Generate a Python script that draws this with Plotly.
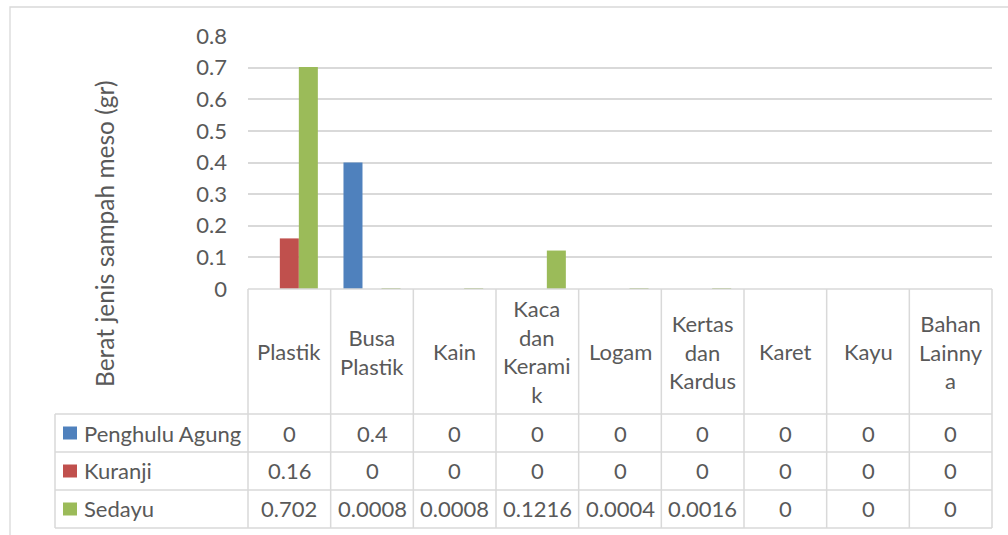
import plotly.graph_objects as go

# Waste categories, wrapped header labels and series values (gr)
categories = ["Plastik", "Busa Plastik", "Kain", "Kaca dan Keramik", "Logam",
              "Kertas dan Kardus", "Karet", "Kayu", "Bahan Lainnya"]
header_labels = ["Plastik", "Busa<br>Plastik", "Kain", "Kaca<br>dan<br>Kerami<br>k",
                 "Logam", "Kertas<br>dan<br>Kardus", "Karet", "Kayu", "Bahan<br>Lainny<br>a"]
series_names = ["Penghulu Agung", "Kuranji", "Sedayu"]
penghulu_agung = [0, 0.4, 0, 0, 0, 0, 0, 0, 0]
kuranji = [0.16, 0, 0, 0, 0, 0, 0, 0, 0]
sedayu = [0.702, 0.0008, 0.0008, 0.1216, 0.0004, 0.0016, 0, 0, 0]
y_ticks = [0, 0.1, 0.2, 0.3, 0.4, 0.5, 0.6, 0.7, 0.8]

series_values = [penghulu_agung, kuranji, sedayu]
colors = ["#4f81bd", "#c0504d", "#9bbb59"]

W, H = 1008, 535
PL, PR, PT, PB = 248, 992, 36, 289          # plot area in pixels
FONT = "Lato"
TXT = "#595959"
GRID = "#d9d9d9"
FS = 22
TITLE_FS = 24.5


def px(x):
    return (x - PL) / (PR - PL)


def py(y):
    return (PB - y) / (PB - PT)


fig = go.Figure()
xs = list(range(len(categories)))
for name, vals, col in zip(series_names, series_values, colors):
    fig.add_trace(go.Bar(x=xs, y=vals, name=name, marker=dict(color=col, line=dict(width=0))))

shapes = []
annotations = []

# Table geometry
n = len(categories)
col_w = (PR - PL) / n
row_lines = [414, 452, 490, 528]
table_left = 55
line = dict(color=GRID, width=1.5)

# horizontal lines of the data table
for y in row_lines:
    shapes.append(dict(type="line", xref="paper", yref="paper",
                       x0=px(table_left), x1=px(PR), y0=py(y), y1=py(y), line=line))
shapes.append(dict(type="line", xref="paper", yref="paper",
                   x0=px(PL), x1=px(PR), y0=py(PB), y1=py(PB), line=line))
# vertical lines
shapes.append(dict(type="line", xref="paper", yref="paper",
                   x0=px(table_left), x1=px(table_left), y0=py(row_lines[0]), y1=py(row_lines[-1]), line=line))
for k in range(n + 1):
    x = PL + k * col_w
    shapes.append(dict(type="line", xref="paper", yref="paper",
                       x0=px(x), x1=px(x), y0=py(PB), y1=py(row_lines[-1]), line=line))

# outer chart border
shapes.append(dict(type="rect", xref="paper", yref="paper",
                   x0=px(10), x1=px(1020), y0=py(7), y1=py(545),
                   line=dict(color=GRID, width=1.3), layer="below"))

# header cells
for k, lab in enumerate(header_labels):
    cx = PL + (k + 0.5) * col_w
    annotations.append(dict(xref="paper", yref="paper", x=px(cx), y=py((PB + row_lines[0]) / 2),
                            text=lab, showarrow=False, xanchor="center", yanchor="middle",
                            font=dict(family=FONT, size=FS, color=TXT)))

# data rows with legend keys
row_tops = [row_lines[0], row_lines[1], row_lines[2]]
for r, (name, vals, col) in enumerate(zip(series_names, series_values, colors)):
    cy = row_tops[r] + (row_lines[r + 1] - row_tops[r]) / 2
    shapes.append(dict(type="rect", xref="paper", yref="paper",
                       x0=px(63), x1=px(77), y0=py(cy - 6.5), y1=py(cy + 6.5),
                       fillcolor=col, line=dict(width=0)))
    annotations.append(dict(xref="paper", yref="paper", x=px(82), y=py(cy),
                            text=name, showarrow=False, xanchor="left", yanchor="middle",
                            font=dict(family=FONT, size=FS, color=TXT)))
    for k, v in enumerate(vals):
        cx = PL + (k + 0.5) * col_w
        annotations.append(dict(xref="paper", yref="paper", x=px(cx), y=py(cy),
                                text=f"{v:g}", showarrow=False, xanchor="center", yanchor="middle",
                                font=dict(family=FONT, size=FS, color=TXT)))

# y axis title
annotations.append(dict(xref="paper", yref="paper", x=px(104), y=py(234),
                        text="Berat jenis sampah meso (gr)", textangle=-90, showarrow=False,
                        xanchor="center", yanchor="middle",
                        font=dict(family=FONT, size=TITLE_FS, color=TXT)))

fig.update_layout(
    width=W, height=H,
    margin=dict(l=PL, r=W - PR, t=PT, b=H - PB, autoexpand=False),
    paper_bgcolor="white", plot_bgcolor="white",
    barmode="group", bargap=0.31, bargroupgap=0,
    showlegend=False,
    shapes=shapes, annotations=annotations,
    font=dict(family=FONT, size=FS, color=TXT),
    xaxis=dict(range=[-0.5, n - 0.5], showticklabels=False, showgrid=False,
               zeroline=False, showline=False, ticks=""),
    yaxis=dict(range=[0, 0.8], tickvals=y_ticks, ticktext=[f"{t:g}" for t in y_ticks],
               showgrid=True, gridcolor=GRID, gridwidth=1.5, zeroline=False,
               showline=False, ticks="", ticklabelstandoff=20,
               tickfont=dict(family=FONT, size=FS, color=TXT)),
)

fig.write_html("out.html")
